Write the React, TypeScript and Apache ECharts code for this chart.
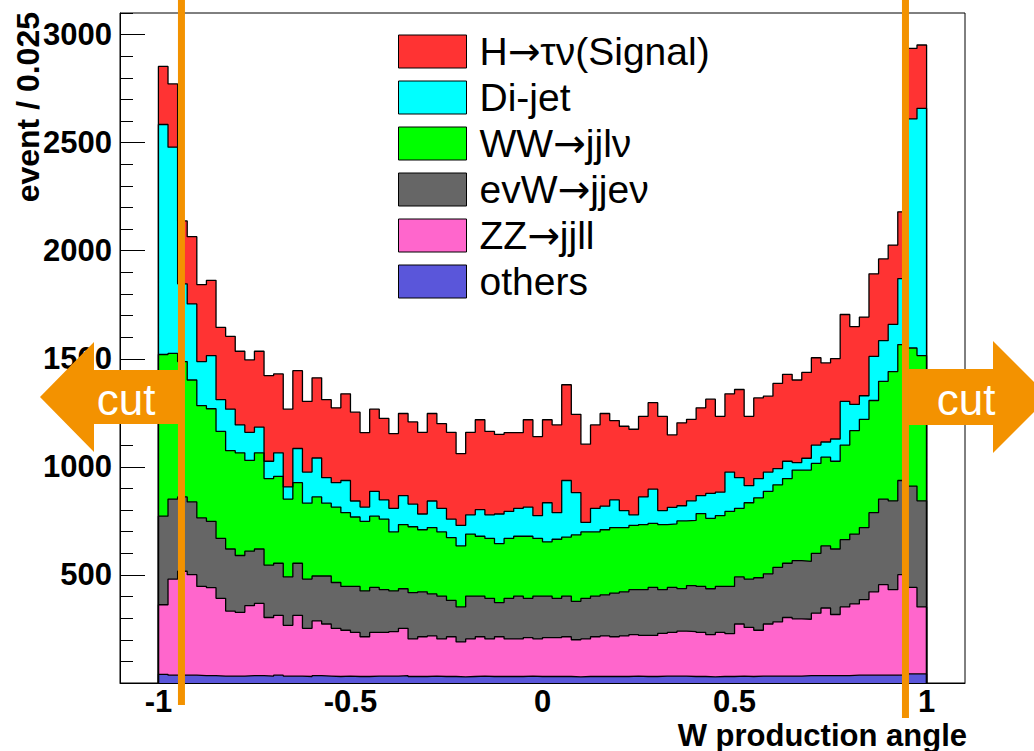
import React, { useEffect, useRef } from "react";
import * as echarts from "echarts";

// Histogram binning: 80 bins of width 0.025 on [-1, 1]
const binLow = -1;
const binWidth = 0.025;

// Events per bin for each process
const signal = [
  269, 293, 291, 311, 356, 348, 334, 337, 341, 335,
  351, 396, 365, 360, 360, 327, 371, 361, 346, 401,
  411, 344, 380, 377, 346, 380, 380, 378, 405, 392,
  402, 332, 382, 416, 386, 368, 364, 350, 404, 366,
  384, 406, 443, 362, 362, 386, 429, 367, 390, 396,
  373, 400, 436, 335, 384, 377, 406, 436, 351, 362,
  408, 321, 373, 351, 394, 402, 382, 397, 404, 366,
  372, 402, 360, 364, 382, 378, 367, 309, 326, 293,
];
const dijet = [
  1064, 954, 360, 352, 204, 246, 147, 192, 129, 130,
  119, 80, 109, 56, 158, 144, 180, 118, 113, 149,
  74, 66, 115, 89, 109, 134, 105, 73, 123, 109,
  85, 95, 89, 123, 109, 137, 125, 129, 135, 105,
  181, 123, 262, 196, 44, 109, 109, 128, 79, 49,
  128, 158, 65, 77, 70, 91, 83, 115, 109, 182,
  142, 79, 89, 89, 75, 80, 35, 55, 85, 70,
  103, 202, 121, 109, 204, 188, 218, 305, 1060, 1144,
];
const wwJjlv = [
  748, 674, 626, 564, 519, 521, 495, 455, 475, 420,
  445, 401, 402, 360, 373, 351, 366, 337, 349, 341,
  321, 322, 330, 326, 273, 297, 305, 287, 307, 297,
  291, 282, 287, 277, 277, 273, 277, 277, 287, 267,
  251, 273, 273, 307, 307, 297, 301, 303, 297, 297,
  301, 297, 301, 294, 313, 301, 337, 326, 327, 347,
  317, 353, 370, 382, 382, 392, 419, 422, 416, 411,
  406, 438, 479, 501, 519, 545, 598, 629, 639, 672,
];
const evwJjev = [
  410, 370, 344, 337, 317, 307, 277, 287, 263, 252,
  252, 242, 241, 224, 241, 228, 208, 222, 212, 203,
  213, 212, 208, 198, 188, 183, 214, 208, 194, 198,
  168, 162, 198, 188, 188, 158, 188, 198, 182, 198,
  192, 182, 188, 178, 188, 188, 190, 202, 204, 208,
  212, 222, 202, 208, 197, 213, 213, 212, 213, 219,
  218, 224, 243, 232, 252, 251, 269, 268, 277, 287,
  303, 311, 323, 333, 366, 396, 411, 436, 469, 491,
];
const zzJjll = [
  322, 445, 481, 465, 413, 407, 360, 301, 295, 324,
  334, 271, 277, 235, 281, 223, 253, 241, 223, 212,
  204, 184, 202, 202, 206, 219, 174, 184, 186, 174,
  184, 162, 174, 182, 174, 184, 174, 174, 178, 174,
  180, 180, 184, 172, 174, 184, 188, 184, 188, 192,
  190, 190, 198, 202, 208, 208, 204, 196, 204, 198,
  241, 227, 212, 241, 251, 271, 265, 261, 289, 313,
  283, 318, 330, 350, 386, 419, 396, 463, 400, 310,
];
const others = [
  40, 36, 36, 36, 34, 34, 32, 32, 32, 34,
  34, 32, 36, 32, 32, 30, 34, 32, 30, 32,
  30, 30, 32, 32, 32, 34, 30, 30, 32, 30,
  30, 28, 30, 32, 30, 30, 30, 30, 32, 30,
  30, 30, 30, 28, 30, 30, 30, 30, 30, 32,
  30, 30, 32, 32, 32, 30, 30, 28, 30, 30,
  32, 30, 32, 32, 32, 32, 32, 34, 34, 34,
  34, 34, 36, 36, 36, 36, 36, 38, 42, 42,
];

// Axis ticks
const xTickLabels = [-1, -0.5, 0, 0.5, 1];
const yTickLabels = [500, 1000, 1500, 2000, 2500, 3000];

// Selection cut on the production angle
const cutLow = -0.94;
const cutHigh = 0.945;

// Legend order = top of the stack first
const processes = [
  { name: "H\u2192\u03c4\u03bd(Signal)", color: "#FF3333", counts: signal },
  { name: "Di-jet", color: "#00FFFF", counts: dijet },
  { name: "WW\u2192jjl\u03bd", color: "#00FF00", counts: wwJjlv },
  { name: "evW\u2192jje\u03bd", color: "#666666", counts: evwJjev },
  { name: "ZZ\u2192jjll", color: "#FF66CC", counts: zzJjll },
  { name: "others", color: "#5A56DA", counts: others },
];

const ORANGE = "#F39200";
const FONT = "'Liberation Sans', Arial, Helvetica, sans-serif";

// Outline of a stacked layer: the sum of this process and all below it
function stackedOutline(idx: number): number[][] {
  const nBins = processes[idx].counts.length;
  const pts: number[][] = [[binLow, 0]];
  let last = 0;
  for (let i = 0; i < nBins; i++) {
    let h = 0;
    for (let k = idx; k < processes.length; k++) h += processes[k].counts[i];
    pts.push([binLow + i * binWidth, h]);
    last = h;
  }
  const xHigh = binLow + nBins * binWidth;
  pts.push([xHigh, last]);
  pts.push([xHigh, 0]);
  return pts;
}

function minorTicks(lo: number, hi: number, step: number, majorEvery: number): number[] {
  const out: number[] = [];
  const n = Math.round((hi - lo) / step);
  for (let k = 0; k <= n; k++) {
    if (k % majorEvery !== 0) out.push(Number((lo + k * step).toFixed(6)));
  }
  return out;
}

export default function App() {
  const ref = useRef<HTMLDivElement>(null);

  useEffect(() => {
    document.body.style.margin = "0";
    const chart = echarts.init(ref.current!, null, { renderer: "svg" });

    const tickLine = { color: "#000", width: 1 };
    const labelStyle = {
      color: "#000",
      fontWeight: "bold" as const,
      fontFamily: FONT,
    };

    chart.setOption({
      animation: false,
      backgroundColor: "#fff",
      grid: {
        left: 120,
        top: 13,
        right: 69,
        bottom: 68,
        show: true,
        borderColor: "#000",
        borderWidth: 1,
        backgroundColor: "transparent",
      },
      legend: {
        orient: "vertical",
        left: 398,
        top: 32,
        padding: 0,
        itemWidth: 68,
        itemHeight: 33,
        itemGap: 7,
        selectedMode: false,
        formatter: (name: string) => name.replace("\u2192", "{arr|\u2192}"),
        textStyle: {
          fontSize: 39,
          color: "#000",
          fontFamily: FONT,
          padding: [0, 0, 0, 8],
          rich: {
            arr: { fontSize: 39, fontFamily: "'DejaVu Sans', sans-serif", color: "#000" },
          },
        },
        data: processes.map((p) => ({
          name: p.name,
          icon: "rect",
          itemStyle: { color: p.color, borderColor: "#000", borderWidth: 1 },
        })),
      },
      xAxis: [
        {
          type: "value",
          min: -1.1,
          max: 1.1,
          axisLine: { onZero: false, lineStyle: tickLine },
          axisTick: {
            inside: true,
            length: 20,
            customValues: xTickLabels,
            lineStyle: tickLine,
          },
          axisLabel: {
            ...labelStyle,
            fontSize: 31,
            margin: 3,
            customValues: xTickLabels,
            formatter: (v: number) => String(v),
          },
          splitLine: { show: false },
        },
        {
          type: "value",
          min: -1.1,
          max: 1.1,
          position: "bottom",
          axisLine: { show: false, onZero: false },
          axisTick: {
            inside: true,
            length: 10,
            customValues: minorTicks(-1, 1, 0.1, 5),
            lineStyle: tickLine,
          },
          axisLabel: { show: false },
          splitLine: { show: false },
        },
      ],
      yAxis: [
        {
          type: "value",
          min: 0,
          max: 3100,
          axisLine: { onZero: false, lineStyle: tickLine },
          axisTick: {
            inside: true,
            length: 25,
            customValues: [0, ...yTickLabels],
            lineStyle: tickLine,
          },
          axisLabel: {
            ...labelStyle,
            fontSize: 31,
            margin: 8,
            customValues: yTickLabels,
            formatter: (v: number) => String(v),
          },
          splitLine: { show: false },
        },
        {
          type: "value",
          min: 0,
          max: 3100,
          position: "left",
          axisLine: { show: false, onZero: false },
          axisTick: {
            inside: true,
            length: 13,
            customValues: minorTicks(0, 3100, 100, 5),
            lineStyle: tickLine,
          },
          axisLabel: { show: false },
          splitLine: { show: false },
        },
      ],
      series: processes.map((p, idx) => ({
        name: p.name,
        type: "line",
        step: "end",
        symbol: "none",
        showSymbol: false,
        silent: true,
        data: stackedOutline(idx),
        itemStyle: { color: p.color },
        lineStyle: { color: "#000", width: 1.3 },
        areaStyle: { color: p.color, opacity: 1 },
        z: 2,
      })),
    });

    // Cut markers placed through the x scale
    const xl = chart.convertToPixel({ xAxisIndex: 0 }, cutLow) as number;
    const xr = chart.convertToPixel({ xAxisIndex: 0 }, cutHigh) as number;
    const yMid = 397;

    chart.setOption({
      graphic: [
        {
          type: "text",
          x: 28,
          y: 12,
          rotation: Math.PI / 2,
          z: 50,
          style: {
            text: "event / 0.025",
            font: `bold 32px ${FONT}`,
            fill: "#000",
            align: "right",
            verticalAlign: "middle",
          },
        },
        {
          type: "text",
          x: 967,
          y: 735,
          z: 50,
          style: {
            text: "W production angle",
            font: `bold 31px ${FONT}`,
            fill: "#000",
            align: "right",
            verticalAlign: "middle",
          },
        },
        {
          type: "polygon",
          z: 100,
          shape: {
            points: [
              [40, yMid],
              [94, yMid - 55],
              [94, yMid - 27],
              [xl, yMid - 27],
              [xl, yMid + 27],
              [94, yMid + 27],
              [94, yMid + 55],
            ],
          },
          style: { fill: ORANGE },
        },
        {
          type: "polygon",
          z: 100,
          shape: {
            points: [
              [xr, yMid - 28],
              [993, yMid - 28],
              [993, yMid - 56],
              [1049, yMid],
              [993, yMid + 56],
              [993, yMid + 28],
              [xr, yMid + 28],
            ],
          },
          style: { fill: ORANGE },
        },
        {
          type: "line",
          z: 101,
          shape: { x1: xl, y1: 0, x2: xl, y2: 705 },
          style: { stroke: ORANGE, lineWidth: 7 },
        },
        {
          type: "line",
          z: 101,
          shape: { x1: xr, y1: 0, x2: xr, y2: 718 },
          style: { stroke: ORANGE, lineWidth: 7 },
        },
        {
          type: "text",
          x: 126,
          y: yMid + 2,
          z: 102,
          style: {
            text: "cut",
            font: `44px ${FONT}`,
            fill: "#fff",
            align: "center",
            verticalAlign: "middle",
          },
        },
        {
          type: "text",
          x: 966,
          y: yMid + 2,
          z: 102,
          style: {
            text: "cut",
            font: `44px ${FONT}`,
            fill: "#fff",
            align: "center",
            verticalAlign: "middle",
          },
        },
      ],
    });

    return () => chart.dispose();
  }, []);

  return (
    <div
      ref={ref}
      style={{ position: "absolute", left: 0, top: 0, width: 1034, height: 751 }}
    />
  );
}
